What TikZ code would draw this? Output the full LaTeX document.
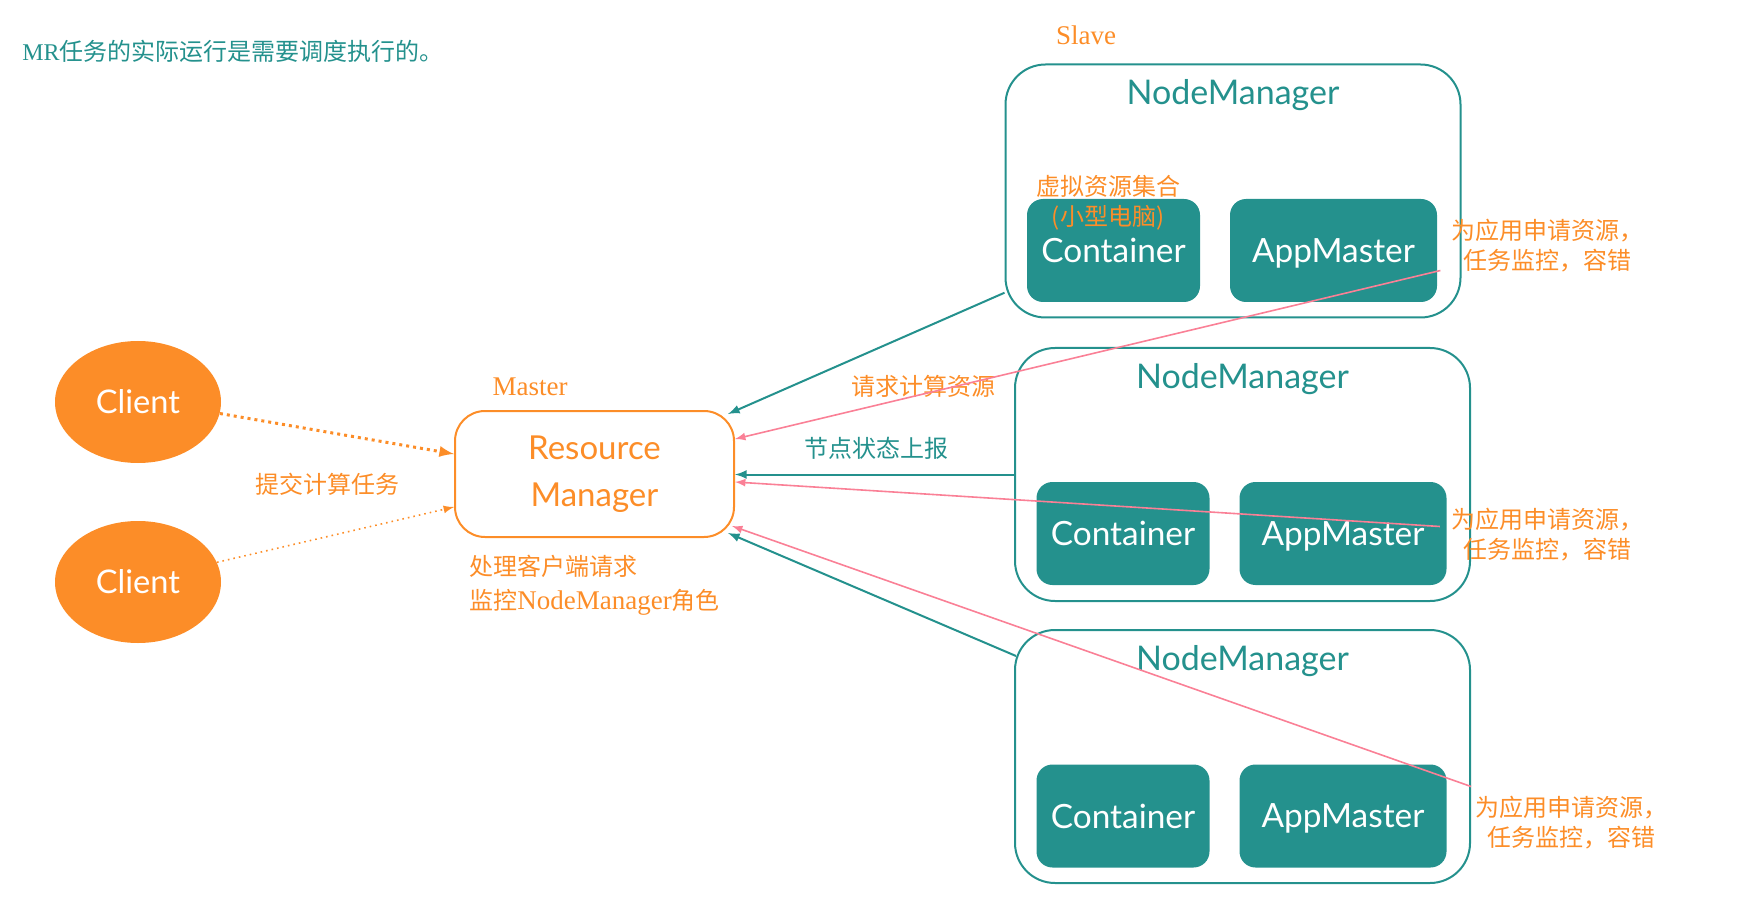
\documentclass[tikz,border=0pt]{standalone}
\usepackage{fontspec}
\setmainfont{Liberation Serif}
\newfontfamily\cjk{Noto Sans CJK SC}
\newfontfamily\lato{Lato}
\usetikzlibrary{calc,shapes.geometric}
\definecolor{tealnm}{RGB}{36,145,141}
\definecolor{orangemr}{RGB}{252,141,40}
\definecolor{pinkreq}{RGB}{250,128,150}

\begin{document}
\begin{tikzpicture}[x=0.5pt,y=-0.5pt,
  nmbox/.style={draw=tealnm,line width=1pt,rounded corners=20pt,minimum width=227.5pt,minimum height=126.5pt,inner sep=0pt},
  nmlabel/.style={text=tealnm,font=\lato\fontsize{17}{20}\selectfont,anchor=base,inner sep=0pt},
  ctbox/.style={fill=tealnm,rounded corners=8pt,text=white,font=\lato\fontsize{16.7}{20}\selectfont,minimum height=51.5pt,text depth=0pt,inner sep=0pt},
  client/.style={ellipse,fill=orangemr,text=white,minimum width=83pt,minimum height=61pt,font=\lato\fontsize{16.3}{19}\selectfont},
  rmbox/.style={draw=orangemr,line width=1pt,rounded corners=15pt,minimum width=139.5pt,minimum height=63pt,text=orangemr,align=center,font=\lato\fontsize{16.5}{23.5}\selectfont},
  cjklabel/.style={font=\cjk\fontsize{12}{15}\selectfont,inner sep=0pt},
  note/.style={cjklabel,text=orangemr,align=center},
  role/.style={text=orangemr,font=\fontsize{13.5}{15}\selectfont,inner sep=0pt},
  tealarr/.style={draw=tealnm,line width=1pt,->,>=latex},
  pinkarr/.style={draw=pinkreq,line width=0.8pt,->,>=latex},
  dotarr/.style={draw=orangemr,dotted,->,>=latex}]
\useasboundingbox (0,0) rectangle (1738,914);

% title and roles
\node[cjklabel,text=tealnm,anchor=west] (title) at (22,51) {{\rmfamily MR}任务的实际运行是需要调度执行的。};
\node[role] (slave) at (1086,35) {Slave};
\node[role] (master) at (530,387) {Master};

% clients and resource manager
\node[client] (c1) at (138,402) {Client};
\node[client] (c2) at (138,582) {Client};
\node[rmbox] (rm) at (594.5,474) {Resource\\Manager};
\node[cjklabel,text=orangemr] (submit) at (327,484) {提交计算任务};
\node[cjklabel,text=orangemr,align=left,anchor=west,font=\cjk\fontsize{12}{17}\selectfont] (rmtask) at (469,585) {处理客户端请求\\监控{\rmfamily\fontsize{13.5}{17}\selectfont NodeManager}角色};

% node managers
\node[nmbox] (nm1) at (1233,191) {};
\node[nmbox] (nm2) at (1242.5,474.5) {};
\node[nmbox] (nm3) at (1242.5,756.5) {};
\node[nmlabel] (nmt1) at ($(nm1.north)+(0,41)$) {NodeManager};
\node[nmlabel] (nmt2) at ($(nm2.north)+(0,41)$) {NodeManager};
\node[nmlabel] (nmt3) at ($(nm3.north)+(0,41)$) {NodeManager};

% containers and app masters
\node[ctbox,minimum width=86.5pt] (ct1) at (1113.5,250.5) {Container};
\node[ctbox,minimum width=103.5pt] (am1) at (1333.5,250.5) {AppMaster};
\node[ctbox,minimum width=86.5pt] (ct2) at (1123,533.5) {Container};
\node[ctbox,minimum width=103.5pt] (am2) at (1343,533.5) {AppMaster};
\node[ctbox,minimum width=86.5pt] (ct3) at (1123,816) {Container};
\node[ctbox,minimum width=103.5pt] (am3) at (1343,816) {AppMaster};
\node[cjklabel,text=orangemr] (virt) at (1108,186) {虚拟资源集合};
\node[cjklabel,text=orangemr] (small) at (1108,218) {(小型电脑)};

% notes
\node[note] (n1) at (1547,246) {为应用申请资源，\\任务监控，容错};
\node[note] (n2) at (1547,535) {为应用申请资源，\\任务监控，容错};
\node[note] (n3) at (1571,823) {为应用申请资源，\\任务监控，容错};
\node[cjklabel,text=orangemr] (ask) at (923,386) {请求计算资源};
\node[cjklabel,text=tealnm] (report) at (876,448) {节点状态上报};

% connectors
\draw[dotarr,line width=1.5pt] (c1.-8) -- ($(rm.west)+(0,-20)$);
\draw[dotarr,line width=0.8pt] (c2.14) -- ($(rm.west)+(0,33)$);
\draw[tealarr] (nm1.204) -- ($(rm.north east)+(-7,4)$);
\draw[tealarr] (nm2.west) -- (nm2.west -| rm.east);
\draw[tealarr] ($(nm3.north west)+(2,27)$) -- ($(rm.south east)+(-7,-5)$);
\draw[pinkarr] ($(am1.east)+(3,20)$) -- ($(rm.east)+(0,-35)$);
\draw[pinkarr] ($(am2.east)+(-7,-7)$) -- ($(rm.east)+(0,8)$);
\draw[pinkarr] ($(nm3.east)+(0,30)$) -- ($(rm.south east)+(-3,-12)$);
\end{tikzpicture}
\end{document}
